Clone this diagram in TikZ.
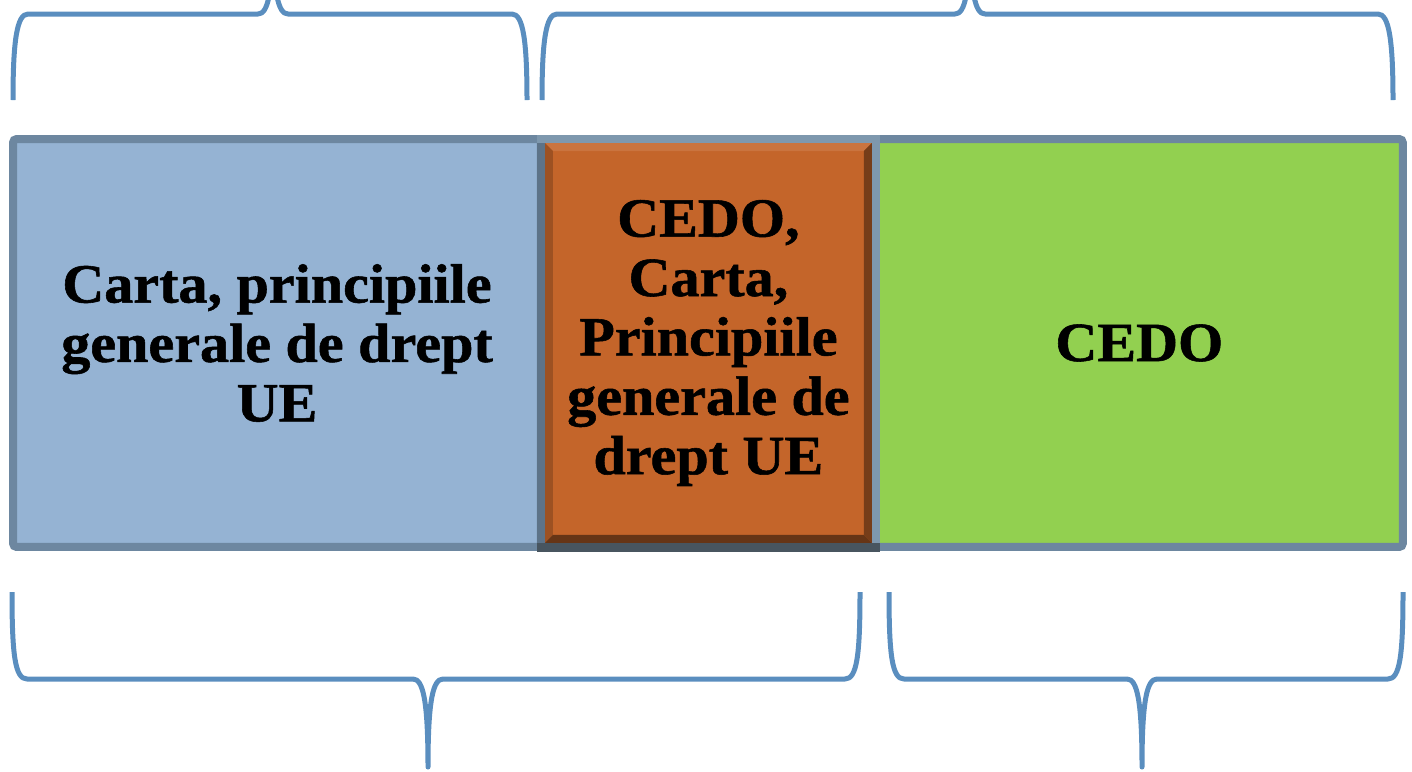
\documentclass[tikz,border=0pt]{standalone}
\usepackage{fontspec}
\setmainfont{Liberation Serif}[BoldFeatures={FakeStretch=1.05,FakeBold=1}]
\usepackage{tikz}
\usetikzlibrary{positioning}
\definecolor{cartablue}{HTML}{95B3D3}
\definecolor{cedoorange}{HTML}{C4652A}
\definecolor{cedogreen}{HTML}{92D050}
\definecolor{edgegray}{HTML}{6D87A0}
\definecolor{edgedark}{HTML}{48555F}
\definecolor{edgelight}{HTML}{7E98AE}
\definecolor{bracecol}{HTML}{5A8EBF}

\begin{document}
\begin{tikzpicture}[
    x=0.02cm, y=-0.02cm,
    zonebox/.style={draw=edgegray, line width=0.16cm, outer sep=0pt, inner sep=0pt,
                 rounded corners=2pt, minimum height=8.16cm, align=center,
                 font=\bfseries\fontsize{31.5}{33.8}\selectfont},
    bracket/.style={draw=bracecol, line width=0.1cm, line join=round},
]
\useasboundingbox (0,0) rectangle (1412,771);
\clip (0,0) rectangle (1412,771);

\node[zonebox, fill=cartablue, minimum width=10.56cm] (carta) at (277,343) {Carta, principiile\\generale de drept\\UE};
\node[zonebox, fill=cedogreen, minimum width=10.54cm, right=6.7cm of carta] (cedo) {CEDO};
\node[zonebox, fill=cedoorange, draw=edgelight, rounded corners=0pt, minimum width=6.7cm, right=0cm of carta] (mixed) {CEDO,\\Carta,\\Principiile\\generale de\\drept UE};

% bevel of the middle box
\coordinate (o1) at ([shift={(4,4)}]mixed.north west);
\coordinate (o2) at ([shift={(-4,4)}]mixed.north east);
\coordinate (o3) at ([shift={(-4,-4)}]mixed.south east);
\coordinate (o4) at ([shift={(4,-4)}]mixed.south west);
\coordinate (i1) at ([shift={(12,12)}]mixed.north west);
\coordinate (i2) at ([shift={(-12,12)}]mixed.north east);
\coordinate (i3) at ([shift={(-12,-12)}]mixed.south east);
\coordinate (i4) at ([shift={(12,-12)}]mixed.south west);
\fill[cedoorange!90!white] (o1) -- (o2) -- (i2) -- (i1) -- cycle;
\fill[cedoorange!80!black] (o1) -- (i1) -- (i4) -- (o4) -- cycle;
\fill[cedoorange!60!black] (o2) -- (o3) -- (i3) -- (i2) -- cycle;
\fill[cedoorange!52!black] (o4) -- (i4) -- (i3) -- (o3) -- cycle;
\fill[edgegray!85!black] ([shift={(-4,4)}]mixed.north west) rectangle (o4);
\fill[edgedark] ([shift={(-4,-4)}]mixed.south west) rectangle ([shift={(4,5)}]mixed.south east);

% braces above
\draw[bracket] (13,100) .. controls (13,40) and (17,14) .. (28,14) -- (258,14)
    .. controls (268,14) and (273,-7) .. (273,-74)
    .. controls (273,-7) and (278,14) .. (288,14) -- (512,14)
    .. controls (523,14) and (527,40) .. (527,100);
\draw[bracket] (542,100) .. controls (542,40) and (546,14) .. (557,14) -- (955,14)
    .. controls (965,14) and (970,-7) .. (970,-74)
    .. controls (970,-7) and (975,14) .. (985,14) -- (1378,14)
    .. controls (1389,14) and (1393,40) .. (1393,100);

% braces below
\draw[bracket] (12,592) .. controls (12,655) and (15,679) .. (27,679) -- (413,679)
    .. controls (423,679) and (428,700) .. (428,767)
    .. controls (428,700) and (433,679) .. (443,679) -- (845,679)
    .. controls (857,679) and (860,655) .. (860,592);
\draw[bracket] (889,592) .. controls (889,655) and (892,679) .. (904,679) -- (1127,679)
    .. controls (1137,679) and (1142,700) .. (1142,767)
    .. controls (1142,700) and (1147,679) .. (1157,679) -- (1388,679)
    .. controls (1400,679) and (1403,655) .. (1403,592);
\end{tikzpicture}
\end{document}
